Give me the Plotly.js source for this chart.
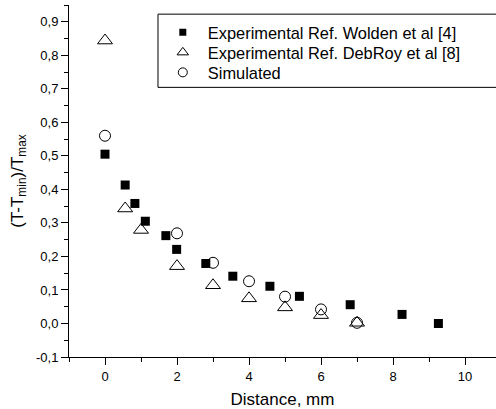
<!DOCTYPE html>
<html><head><meta charset="utf-8">
<script src="https://cdn.plot.ly/plotly-3.0.1.min.js"></script>
<style>html,body{margin:0;padding:0;background:#fff}#c{width:496px;height:409px}</style>
</head><body><div id="c"></div>
<script>
var woldenX = [0, 0.56, 0.83, 1.12, 1.69, 1.99, 2.80, 3.55, 4.58, 5.40, 6.81, 8.25, 9.26];
var woldenY = [0.505, 0.413, 0.358, 0.305, 0.262, 0.221, 0.179, 0.141, 0.111, 0.081, 0.056, 0.027, 0.0];
var debroyX = [0, 0.56, 1.0, 2.0, 3.0, 4.0, 5.0, 6.0, 7.0];
var debroyY = [0.844, 0.343, 0.279, 0.171, 0.114, 0.075, 0.048, 0.025, 0.002];
var simX = [0, 2.0, 3.0, 4.0, 5.0, 6.0, 7.0];
var simY = [0.56, 0.269, 0.181, 0.126, 0.08, 0.042, 0.002];
var names = ['Experimental Ref. Wolden et al [4]', 'Experimental Ref. DebRoy et al [8]', 'Simulated'];
var yTickVals = [-0.1, 0, 0.1, 0.2, 0.3, 0.4, 0.5, 0.6, 0.7, 0.8, 0.9];
var yTickText = ['-0,1', '0,0', '0,1', '0,2', '0,3', '0,4', '0,5', '0,6', '0,7', '0,8', '0,9'];
var xTickVals = [0, 2, 4, 6, 8, 10];
var xTickText = ['0', '2', '4', '6', '8', '10'];

var traces = [
  {x: woldenX, y: woldenY, type: 'scatter', mode: 'markers', showlegend: false, cliponaxis: false,
   marker: {symbol: 'square', size: 9, color: '#000'}},
  {x: debroyX, y: debroyY, type: 'scatter', mode: 'markers', showlegend: false, cliponaxis: false,
   marker: {symbol: 'triangle-up-open', size: 13, color: '#000', line: {width: 1}}},
  {x: simX, y: simY, type: 'scatter', mode: 'markers', showlegend: false, cliponaxis: false,
   marker: {symbol: 'circle-open', size: 11, color: '#000', line: {width: 1}}},
  {x: [null], y: [null], type: 'scatter', mode: 'markers', name: names[0], legend: 'legend',
   marker: {symbol: 'square', size: 7, color: '#000'}},
  {x: [null], y: [null], type: 'scatter', mode: 'markers', name: names[1], legend: 'legend2',
   marker: {symbol: 'triangle-up-open', size: 10, color: '#000', line: {width: 1}}},
  {x: [null], y: [null], type: 'scatter', mode: 'markers', name: names[2], legend: 'legend3',
   marker: {symbol: 'circle-open', size: 9, color: '#000', line: {width: 1}}}
];

function leg(y) {
  return {x: 0.208, y: y, xanchor: 'left', yanchor: 'middle', borderwidth: 0,
          bgcolor: 'rgba(0,0,0,0)', font: {size: 16.4}, itemwidth: 40};
}

var layout = {
  width: 496, height: 409,
  margin: {l: 69, r: 0, t: 5, b: 52},
  paper_bgcolor: '#fff', plot_bgcolor: '#fff',
  font: {family: 'Liberation Sans, Arial, sans-serif', color: '#000', size: 13},
  showlegend: true,
  legend: leg(0.9213),
  legend2: leg(0.8645),
  legend3: leg(0.8077),
  shapes: [{type: 'rect', xref: 'paper', yref: 'paper', x0: 0.2084, x1: 1.05, y0: 0.766, y1: 0.974,
            line: {color: '#000', width: 1}, fillcolor: '#fff', layer: 'below'}],
  xaxis: {range: [-1, 10.86], showgrid: false, zeroline: false, showline: true, linecolor: '#000', linewidth: 1,
          ticks: 'outside', ticklen: 7, tickwidth: 1, tickcolor: '#000',
          tickmode: 'array', tickvals: xTickVals, ticktext: xTickText,
          minor: {dtick: 1, tick0: 0, ticks: 'outside', ticklen: 4, tickcolor: '#000', showgrid: false},
          title: {text: 'Distance, mm', font: {size: 17}, standoff: 13}},
  yaxis: {range: [-0.1, 0.95], showgrid: false, zeroline: false, showline: true, linecolor: '#000', linewidth: 1,
          ticks: 'outside', ticklen: 7, tickwidth: 1, tickcolor: '#000',
          tickmode: 'array', tickvals: yTickVals, ticktext: yTickText,
          minor: {dtick: 0.05, tick0: 0, ticks: 'outside', ticklen: 4, tickcolor: '#000', showgrid: false},
          title: {text: '(T-T<sub>min</sub>)/T<sub>max</sub>', font: {size: 17}, standoff: 8}}
};
Plotly.newPlot('c', traces, layout, {displayModeBar: false, staticPlot: true});
</script></body></html>
